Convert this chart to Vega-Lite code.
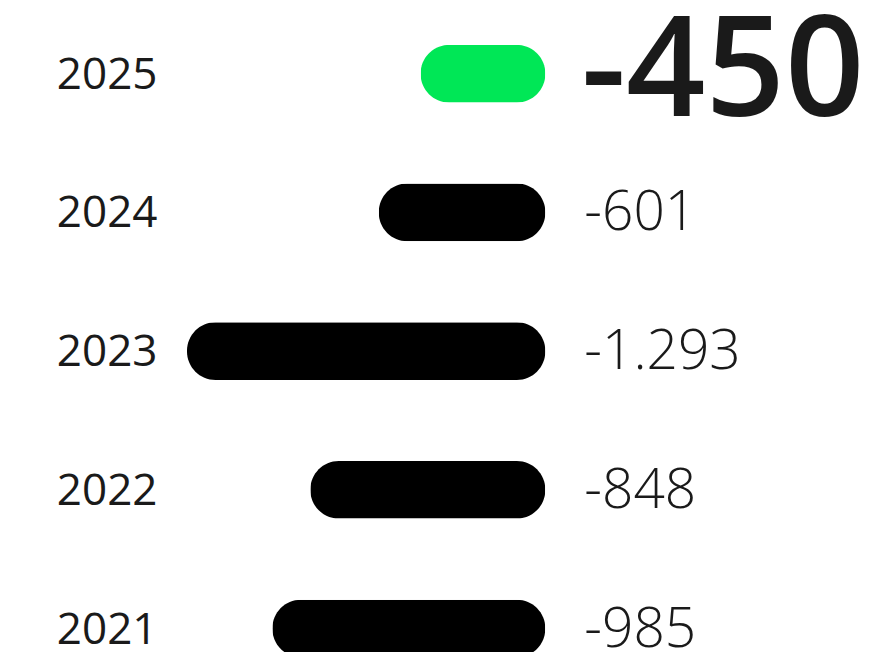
{
  "$schema": "https://vega.github.io/schema/vega-lite/v6.json",
  "width": 705,
  "height": 647.65,
  "autosize": {"type": "none"},
  "padding": {"left": 187, "top": 4.35, "right": 0, "bottom": 0},
  "background": "#ffffff",
  "data": {
    "values": [
      {"year": "2025", "value": -450},
      {"year": "2024", "value": -601},
      {"year": "2023", "value": -1293},
      {"year": "2022", "value": -848},
      {"year": "2021", "value": -985}
    ]
  },
  "encoding": {
    "y": {
      "field": "year",
      "type": "nominal",
      "sort": ["2025", "2024", "2023", "2022", "2021"],
      "scale": {"range": [0, 693.5], "paddingInner": 0.585, "paddingOuter": 0.2925},
      "axis": {
        "title": null,
        "domain": false,
        "ticks": false,
        "labelPadding": 30,
        "labelFontSize": 44,
        "labelFont": "Open Sans",
        "labelFontWeight": 400,
        "labelColor": "#1a1a1a",
        "labelOffset": 2
      }
    }
  },
  "layer": [
    {
      "mark": {"type": "bar", "cornerRadius": 28.5},
      "encoding": {
        "x": {
          "field": "value",
          "type": "quantitative",
          "scale": {"domain": [-1293, 1251], "nice": false},
          "axis": null
        },
        "color": {
          "condition": {"test": "datum.year === '2025'", "value": "#00e756"},
          "value": "#000000"
        }
      }
    },
    {
      "transform": [{"filter": "datum.year !== '2025'"}],
      "mark": {
        "type": "text",
        "align": "left",
        "baseline": "middle",
        "dx": 39,
        "dy": 1,
        "font": "Open Sans",
        "fontWeight": 300,
        "fontSize": 55,
        "color": "#1a1a1a"
      },
      "encoding": {
        "x": {"datum": 0, "type": "quantitative"},
        "text": {"field": "value", "type": "quantitative", "format": ",d"}
      }
    },
    {
      "transform": [{"filter": "datum.year === '2025'"}],
      "mark": {
        "type": "text",
        "align": "left",
        "baseline": "middle",
        "dx": 36,
        "font": "Open Sans",
        "fontWeight": 600,
        "fontSize": 139,
        "color": "#1a1a1a"
      },
      "encoding": {
        "x": {"datum": 0, "type": "quantitative"},
        "text": {"field": "value", "type": "quantitative", "format": ",d"}
      }
    }
  ],
  "config": {
    "view": {"stroke": null},
    "locale": {
      "number": {
        "decimal": ",",
        "thousands": ".",
        "grouping": [3],
        "currency": ["", " €"],
        "minus": "-"
      }
    }
  }
}
